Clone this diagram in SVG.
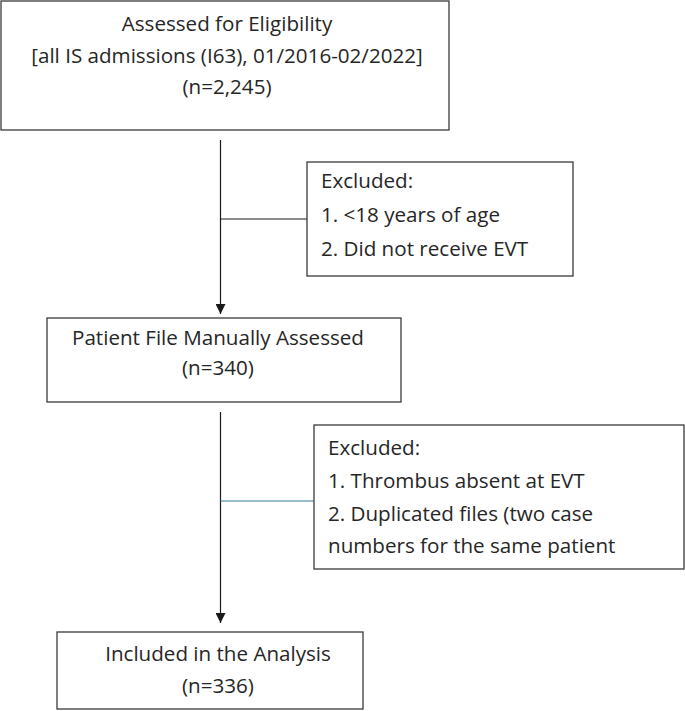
<svg xmlns="http://www.w3.org/2000/svg" width="685" height="711" viewBox="0 0 685 711">
<style>
.box{fill:#fff;stroke:#3a3a3a;stroke-width:1.3}
.t{font-family:"Open Sans","Liberation Sans",Arial,sans-serif;font-size:20.6px;fill:#262626}
.c{text-anchor:middle}
.ln{stroke:#1a1a1a;stroke-width:1.2;fill:none}
</style>
<defs>
<marker id="ah" viewBox="0 0 10 10" refX="10" refY="5" markerWidth="10" markerHeight="10" markerUnits="userSpaceOnUse" orient="auto">
<path d="M0,0 L10,5 L0,10 Z" fill="#1a1a1a"/>
</marker>
</defs>
<rect width="685" height="711" fill="#fff"/>
<g id="connectors">
<line class="ln" x1="220.5" y1="140" x2="220.5" y2="314" marker-end="url(#ah)"/>
<line class="ln" x1="220.5" y1="219" x2="307" y2="219"/>
<line class="ln" x1="220.5" y1="412" x2="220.5" y2="623" marker-end="url(#ah)"/>
<line class="ln" x1="220.5" y1="501" x2="314" y2="501" style="stroke:#3d7a96"/>
</g>
<g id="node-eligibility">
<rect class="box" x="1" y="1" width="448" height="129"/>
<text class="t c" x="227" y="31">Assessed for Eligibility</text>
<text class="t c" x="227" y="63">[all IS admissions (I63), 01/2016-02/2022]</text>
<text class="t c" x="227" y="94">(n=2,245)</text>
</g>
<g id="node-excluded1">
<rect class="box" x="307" y="162" width="266" height="114"/>
<text class="t" x="321" y="188">Excluded:</text>
<text class="t" x="321" y="222">1. &lt;18 years of age</text>
<text class="t" x="321" y="256">2. Did not receive EVT</text>
</g>
<g id="node-manual">
<rect class="box" x="47" y="318" width="354" height="84"/>
<text class="t c" x="218" y="345">Patient File Manually Assessed</text>
<text class="t c" x="218" y="375">(n=340)</text>
</g>
<g id="node-excluded2">
<rect class="box" x="314" y="425" width="370" height="144"/>
<text class="t" x="328" y="455">Excluded:</text>
<text class="t" x="328" y="488">1. Thrombus absent at EVT</text>
<text class="t" x="328" y="521">2. Duplicated files (two case</text>
<text class="t" x="328" y="553">numbers for the same patient</text>
</g>
<g id="node-included">
<rect class="box" x="57" y="632" width="306" height="77"/>
<text class="t c" x="218" y="661">Included in the Analysis</text>
<text class="t c" x="218" y="693">(n=336)</text>
</g>
</svg>
